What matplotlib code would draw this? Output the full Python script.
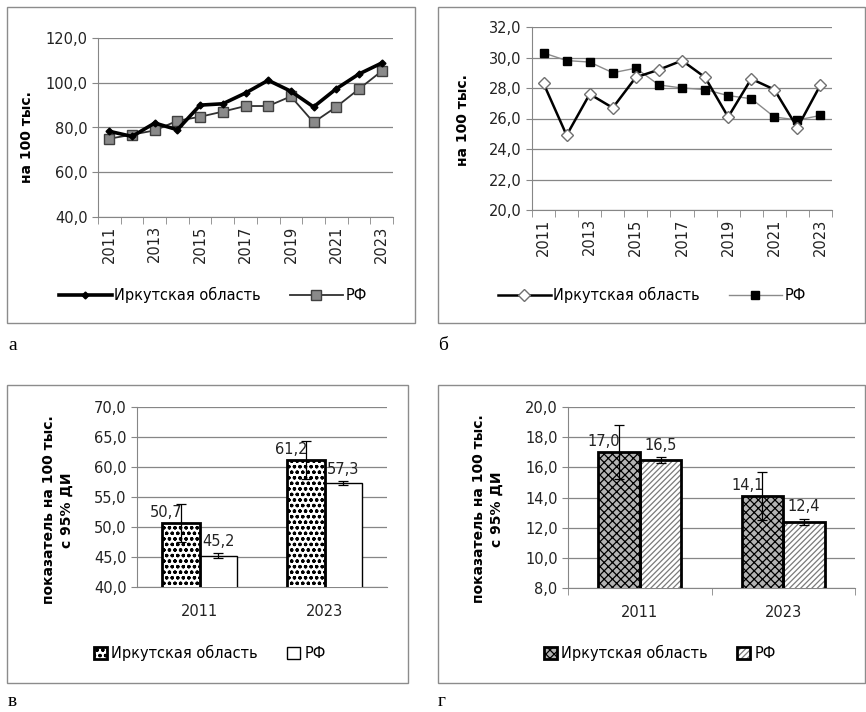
import matplotlib
matplotlib.use("Agg")
import matplotlib.pyplot as plt
from matplotlib.patches import Rectangle
from matplotlib.ticker import FuncFormatter, FixedLocator
import numpy as np

years = [str(y) for y in range(2011, 2024)]

# panel а
irk_a = [78.3, 76.0, 82.0, 79.0, 90.0, 90.6, 95.4, 101.1, 96.2, 89.2, 97.3, 103.9, 108.8]
rf_a = [75.0, 76.8, 78.7, 83.0, 84.8, 87.1, 89.6, 89.6, 93.9, 82.3, 89.2, 97.2, 105.2]

# panel б
irk_b = [28.3, 24.9, 27.6, 26.7, 28.7, 29.2, 29.8, 28.7, 26.1, 28.6, 27.9, 25.4, 28.2]
rf_b = [30.3, 29.8, 29.7, 29.0, 29.3, 28.2, 28.0, 27.9, 27.5, 27.3, 26.1, 25.9, 26.2]

# panels в, г
bar_years = ["2011", "2023"]
irk_c = [50.7, 61.2]
irk_c_err = [3.2, 3.2]
rf_c = [45.2, 57.3]
rf_c_err = [0.4, 0.3]

irk_d = [17.0, 14.1]
irk_d_err = [1.8, 1.6]
rf_d = [16.5, 12.4]
rf_d_err = [0.2, 0.2]

W, H = 866, 712
plt.rcParams["font.family"] = ["DejaVu Sans"]
plt.rcParams["hatch.linewidth"] = 0.9
fig = plt.figure(figsize=(W / 100, H / 100), dpi=100)

GRID = "#868686"
TXT = "#222222"
FS = 10.5


def px_axes(l, t, r, b):
    return fig.add_axes([l / W, 1 - b / H, (r - l) / W, (b - t) / H])


def box(l, t, r, b):
    fig.patches.append(Rectangle((l / W, 1 - b / H), (r - l) / W, (b - t) / H,
                                 transform=fig.transFigure, fill=False,
                                 edgecolor="#8c8c8c", lw=1.0))


comma = FuncFormatter(lambda v, p: f"{v:.1f}".replace(".", ","))


def style(ax, ylim, step):
    ax.set_ylim(*ylim)
    ax.set_yticks(np.arange(ylim[0], ylim[1] + 0.01, step))
    ax.yaxis.set_major_formatter(comma)
    ax.grid(axis="y", color=GRID, lw=0.9)
    ax.set_axisbelow(True)
    for s in ("top", "right"):
        ax.spines[s].set_visible(False)
    for s in ("left", "bottom"):
        ax.spines[s].set_color(GRID)
    ax.tick_params(axis="y", colors=GRID, labelcolor=TXT, labelsize=FS, length=4)
    ax.tick_params(axis="x", labelcolor=TXT, labelsize=FS)


def line_panel(ax, irk, rf, ylim, step, irk_kw, rf_kw):
    x = np.arange(len(years))
    ax.plot(x, irk, label="Иркутская область", **irk_kw)
    ax.plot(x, rf, label="РФ", **rf_kw)
    ax.set_xlim(-0.5, len(years) - 0.5)
    style(ax, ylim, step)
    ax.set_xticks(x[::2])
    ax.set_xticklabels(years[::2], rotation=90)
    ax.xaxis.set_minor_locator(FixedLocator(np.arange(-0.5, len(years), 1)))
    ax.tick_params(axis="x", which="major", length=0, pad=6)
    ax.tick_params(axis="x", which="minor", length=5, color=GRID)


# ---- а
box(7, 7, 415, 323)
ax_a = px_axes(98, 38, 393, 217)
line_panel(ax_a, irk_a, rf_a, (40, 120), 20,
           dict(color="black", lw=2.6, marker="D", ms=3.5, zorder=3),
           dict(color="#303030", lw=1.3, marker="s", ms=7.5, mfc="#8a8a8a",
                mec="#404040", mew=1.0, zorder=2))
ax_a.legend(loc="center", bbox_to_anchor=(213 / W, 1 - 295 / H), bbox_transform=fig.transFigure,
            ncol=2, frameon=False, fontsize=FS, handlelength=3.6, columnspacing=2.0,
            handletextpad=0.2)
fig.text(27 / W, 1 - 137 / H, "на 100 тыс.", rotation=90, ha="center", va="center",
         fontsize=10, fontweight="bold")

# ---- б
box(438, 7, 865, 323)
ax_b = px_axes(532, 27, 832, 210)
line_panel(ax_b, irk_b, rf_b, (20, 32), 2,
           dict(color="black", lw=1.8, marker="D", ms=6, mfc="white",
                mec="#707070", mew=1.0, zorder=3),
           dict(color="#8a8a8a", lw=1.0, marker="s", ms=5.5, mfc="black",
                mec="black", zorder=2))
ax_b.legend(loc="center", bbox_to_anchor=(652 / W, 1 - 295 / H), bbox_transform=fig.transFigure,
            ncol=2, frameon=False, fontsize=FS, handlelength=3.6, columnspacing=2.0,
            handletextpad=0.2)
fig.text(463 / W, 1 - 120 / H, "на 100 тыс.", rotation=90, ha="center", va="center",
         fontsize=10, fontweight="bold")


def fmt(v):
    return f"{v:.1f}".replace(".", ",")


def hatched_bar(ax, x, h, width, face, hatch, hatch_color, edge_lw):
    fill = ax.bar(x, h, width, color=face, edgecolor=hatch_color, hatch=hatch,
                  lw=0, zorder=3)
    outline = ax.bar(x, h, width, fill=False, edgecolor="black", lw=edge_lw, zorder=4)
    return fill[0], outline[0]


def bar_panel(ax, irk, irk_err, rf, rf_err, ylim, step, width, irk_style, rf_style, legend_xy):
    x = np.arange(len(bar_years))
    h1 = hatched_bar(ax, x - width / 2, irk, width, **irk_style)
    h2 = hatched_bar(ax, x + width / 2, rf, width, **rf_style)
    ax.errorbar(x - width / 2, irk, yerr=irk_err, fmt="none", ecolor="black",
                elinewidth=0.9, capsize=3.5, capthick=0.9, zorder=5)
    ax.errorbar(x + width / 2, rf, yerr=rf_err, fmt="none", ecolor="black",
                elinewidth=0.9, capsize=3.5, capthick=0.9, zorder=5)
    for xi, v in zip(x - width / 2, irk):
        ax.annotate(fmt(v), (xi, v), xytext=(1, 2), textcoords="offset points",
                    ha="right", va="bottom", fontsize=FS, color=TXT, zorder=6)
    for xi, v, e in zip(x + width / 2, rf, rf_err):
        ax.annotate(fmt(v), (xi, v + e), xytext=(0, 3), textcoords="offset points",
                    ha="center", va="bottom", fontsize=FS, color=TXT, zorder=6)
    ax.set_xlim(-0.5, len(bar_years) - 0.5)
    style(ax, ylim, step)
    ax.set_xticks(x)
    ax.set_xticklabels(bar_years)
    ax.tick_params(axis="x", which="major", length=0, pad=12)
    ax.legend([h1, h2], ["Иркутская область", "РФ"], loc="center",
              bbox_to_anchor=(legend_xy[0] / W, 1 - legend_xy[1] / H),
              bbox_transform=fig.transFigure, ncol=2, frameon=False, fontsize=FS,
              handlelength=0.9, handleheight=0.9, columnspacing=2.0, handletextpad=0.3)


# ---- в
box(7, 385, 408, 683)
ax_c = px_axes(137, 407, 387, 587)
bar_panel(ax_c, irk_c, irk_c_err, rf_c, rf_c_err, (40, 70), 5, 0.3,
          dict(face="white", hatch="ooo", hatch_color="black", edge_lw=2.0),
          dict(face="white", hatch=None, hatch_color="black", edge_lw=1.0),
          (210, 653))
fig.text(58 / W, 1 - 510 / H, "показатель на 100 тыс.\nс 95% ДИ", rotation=90,
         ha="center", va="center", fontsize=10, fontweight="bold", multialignment="center",
         linespacing=1.3)

# ---- г
box(438, 385, 865, 683)
ax_d = px_axes(568, 407, 855, 588)
bar_panel(ax_d, irk_d, irk_d_err, rf_d, rf_d_err, (8, 20), 2, 0.29,
          dict(face="#b4b4b4", hatch="xxxx", hatch_color="black", edge_lw=2.0),
          dict(face="white", hatch="//////", hatch_color="#7a7a7a", edge_lw=2.0),
          (660, 653))
ax_d.xaxis.set_minor_locator(FixedLocator([-0.5, 0.5, 1.5]))
ax_d.tick_params(axis="x", which="minor", length=5, color=GRID)
fig.text(488 / W, 1 - 509 / H, "показатель на 100 тыс.\nс 95% ДИ", rotation=90,
         ha="center", va="center", fontsize=10, fontweight="bold", multialignment="center",
         linespacing=1.3)

# panel letters
for x, y, s in [(8, 345, "а"), (438, 345, "б"), (8, 701, "в"), (438, 701, "г")]:
    fig.text(x / W, 1 - y / H, s, ha="left", va="center", fontsize=14,
             family="Liberation Serif")

fig.savefig("out.png", dpi=100)
